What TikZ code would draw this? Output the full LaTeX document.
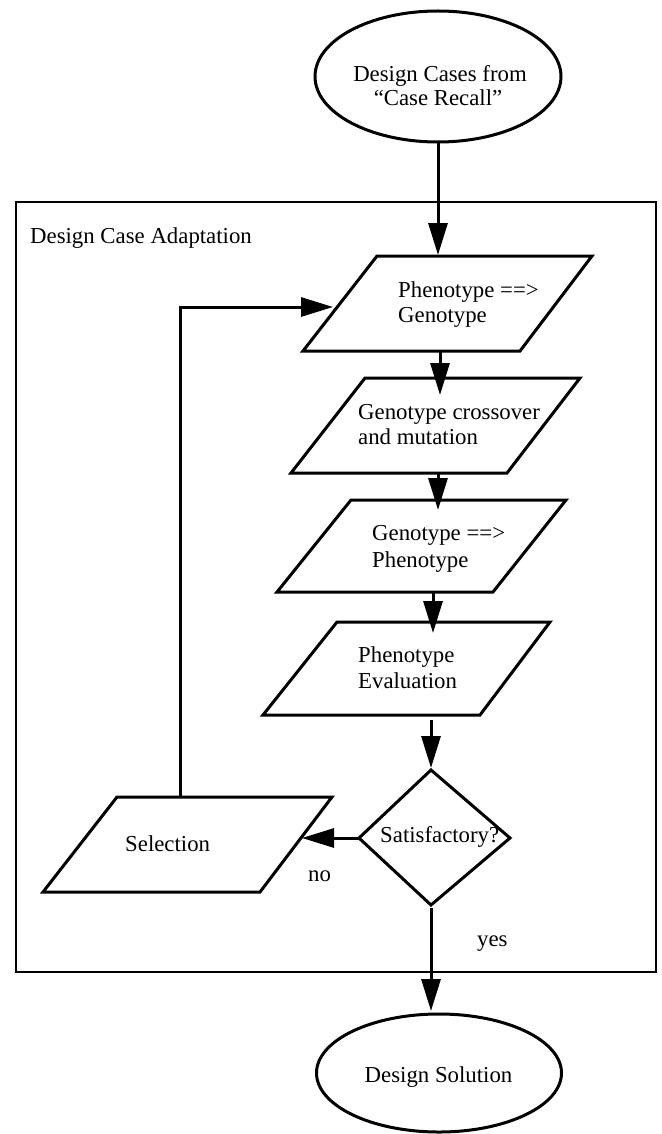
\documentclass[tikz,border=0pt]{standalone}
\usepackage{fontspec}
\setmainfont{Liberation Serif}
\usetikzlibrary{arrows.meta,shapes.geometric}
\newcommand\dfont{\fontsize{22.8}{26}\selectfont}
\tikzset{
  shp/.style={line width=3pt, line join=miter},
  frm/.style={line width=2.6pt},
  arr/.style={line width=3pt, -{Triangle[length=32pt,width=19pt]}},
  txt/.style={inner sep=0pt, anchor=base west, font=\dfont},
  ctxt/.style={inner sep=0pt, anchor=base, font=\dfont},
  oval/.style={draw, ellipse, line width=3pt, inner sep=0pt},
}
\begin{document}
\begin{tikzpicture}[x=1pt,y=-1pt]
\useasboundingbox (0,0) rectangle (661,1134);
% frame
\draw[frm] (16,202) rectangle (656,972);
\node[txt] (frametitle) at (30,243) {Design Case Adaptation};
% top ellipse
\node[oval, minimum width=246pt, minimum height=131pt] (e1) at (438,76.5) {};
\node[ctxt] (e1a) at (440,82) {Design Cases from};
\node[ctxt] (e1b) at (438,106) {“Case Recall”};
% parallelograms (bottom-left x, top y, bottom y), width 217, skew 74
\draw[shp] (303,351) -- (520,351) -- (592,256) -- (377,256) -- cycle;
\draw[shp] (291,473) -- (507,473) -- (580,378) -- (365,378) -- cycle;
\draw[shp] (277,592) -- (493,592) -- (566,500) -- (351,500) -- cycle;
\draw[shp] (263,715) -- (480,715) -- (550,622) -- (337,622) -- cycle;
\draw[shp] (43,892) -- (260,892) -- (332,797) -- (117,797) -- cycle;
% diamond
\draw[shp] (431,770) -- (510,838) -- (431,905) -- (359,838) -- cycle;
% texts
\node[txt] (p1a) at (398,297) {Phenotype ==>};
\node[txt] (p1b) at (398,322) {Genotype};
\node[txt] (p2a) at (358,419) {Genotype crossover};
\node[txt] (p2b) at (358,444) {and mutation};
\node[txt] (p3a) at (372,540) {Genotype ==>};
\node[txt] (p3b) at (372,567) {Phenotype};
\node[txt] (p4a) at (358,662) {Phenotype};
\node[txt] (p4b) at (358,688) {Evaluation};
\node[txt] (sel) at (125,851) {Selection};
\node[txt] (sat) at (380,842) {Satisfactory?};
\node[txt] (no) at (308,881) {no};
\node[txt] (yes) at (477,946) {yes};
% bottom ellipse
\node[oval, minimum width=245pt, minimum height=118pt] (e2) at (439,1073) {};
\node[ctxt] (e2a) at (438.5,1082) {Design Solution};
% connection points
\coordinate (p1in) at (438,255);
\coordinate (p1out) at (440,351);
\coordinate (p2in) at (440,395);
\coordinate (p2out) at (438,473);
\coordinate (p3in) at (438,510);
\coordinate (p3out) at (433,592);
\coordinate (p4in) at (433,633);
\coordinate (p4out) at (431,720);
\coordinate (dtop) at (431,768);
\coordinate (dleft) at (359,838);
\coordinate (selr) at (302,838);
\coordinate (dbot) at (431,908);
\coordinate (e2top) at (431,1011);
\coordinate (selt) at (180,797);
\coordinate (p1l) at (333,307);
% connectors
\draw[arr] (e1.south) -- (p1in);
\draw[arr] (p1out) -- (p2in);
\draw[arr] (p2out) -- (p3in);
\draw[arr] (p3out) -- (p4in);
\draw[arr] (p4out) -- (dtop);
\draw[arr] (dleft) -- (selr);
\draw[arr] (dbot) -- (e2top);
\draw[arr] (selt) |- (p1l);
\end{tikzpicture}
\end{document}
